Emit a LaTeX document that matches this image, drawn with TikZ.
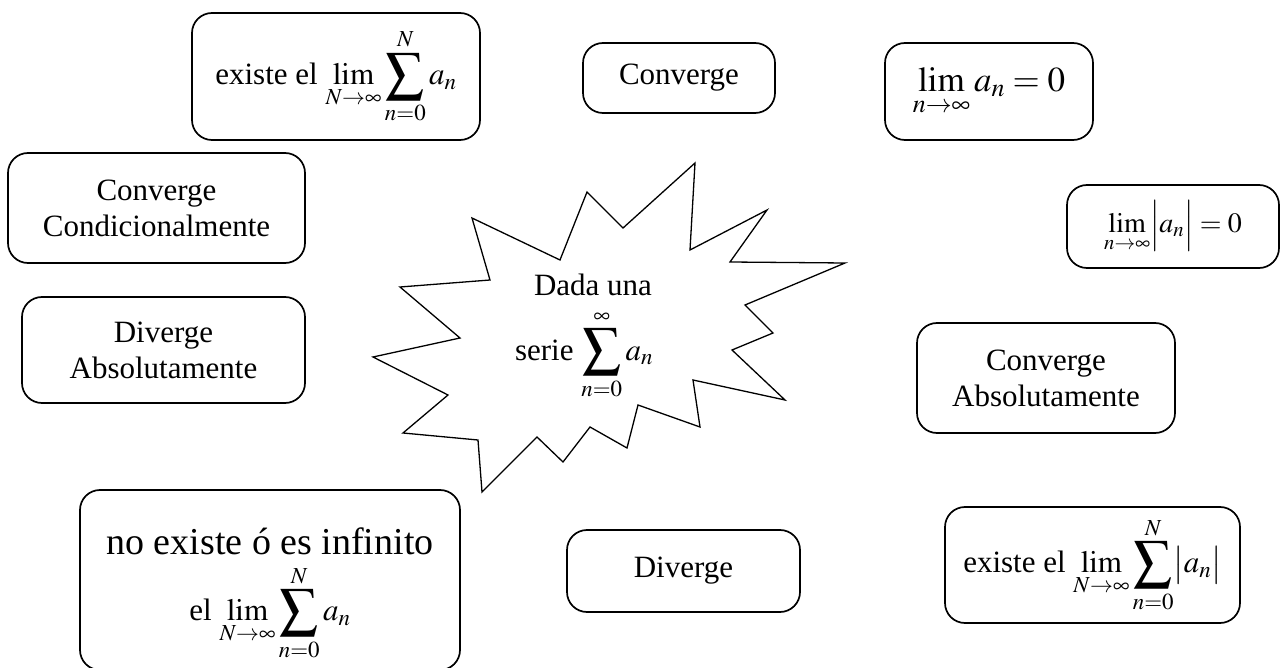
\documentclass[tikz,border=0pt]{standalone}
\usepackage{mathptmx}
\usepackage[no-math]{fontspec}
\setmainfont{Liberation Serif}
\newcommand{\MySum}{\mathop{\vcenter{\hbox{\fontsize{38}{38}\selectfont$\displaystyle\sum$}}}\limits}
\begin{document}
\begin{tikzpicture}[x=1pt,y=-1pt,
  box/.style={draw,line width=1.7pt,rounded corners=20pt,inner sep=0pt,align=center,font=\fontsize{31}{36}\selectfont},
  plaintext/.style={inner sep=0pt,align=center,font=\fontsize{31}{36}\selectfont},
  starline/.style={draw,line width=1.3pt,line join=miter}
]
\useasboundingbox (0,0) rectangle (1280,668);
% boxes
\node[box,minimum width=288pt,minimum height=127pt] (b1) at (336,76.5)
  {existe el $\displaystyle\lim_{N\to\infty}\MySum_{n=0}^{N}a_n$};
\node[box,minimum width=192pt,minimum height=70pt] (conv) at (679,78) {Converge};
\node[box,minimum width=208pt,minimum height=97pt,font=\fontsize{35}{40}\selectfont] (lim0) at (989,91.5)
  {$\displaystyle\lim_{n\to\infty}a_n=0$};
\node[box,minimum width=297pt,minimum height=110pt] (cc) at (156.5,208)
  {Converge\\Condicionalmente};
\node[box,minimum width=212pt,minimum height=83pt,font=\fontsize{28}{32}\selectfont] (limabs) at (1173,226.5)
  {$\displaystyle\lim_{n\to\infty}\Bigl|a_n\Bigr|=0$};
\node[box,minimum width=283pt,minimum height=106pt] (da) at (163.5,350)
  {Diverge\\Absolutamente};
\node[box,minimum width=258pt,minimum height=110pt] (ca) at (1046,378)
  {Converge\\Absolutamente};
\node[box,minimum width=380pt,minimum height=180pt] (nex) at (270,580) {};
\node[plaintext] (nextxt) at (270,594)
  {{\fontsize{38}{44}\selectfont no existe ó es infinito}\\[10pt]
   el $\displaystyle\lim_{N\to\infty}\MySum_{n=0}^{N}a_n$};
\node[box,minimum width=233pt,minimum height=82pt] (div) at (683.5,571) {Diverge};
\node[box,minimum width=295pt,minimum height=116pt] (exabs) at (1092.5,565)
  {existe el $\displaystyle\lim_{N\to\infty}\MySum_{n=0}^{N}\bigl|a_n\bigr|$};
% star
\draw[starline] (695,163) -- (690,250) -- (767,210) -- (730,262) -- (845,263)
  -- (745,305) -- (773,333) -- (732,350) -- (785,400) -- (693,380)
  -- (700,427) -- (638,405) -- (627,448) -- (590,427) -- (563,462)
  -- (537,437) -- (482,492) -- (478,440) -- (403,433) -- (448,395)
  -- (373,357) -- (460,338) -- (400,287) -- (490,280) -- (472,218)
  -- (560,260) -- (587,192) -- (623,228) -- cycle;
\node[plaintext] (dada) at (593,285) {Dada una};
\node[plaintext] (serie) at (584,355) {serie $\displaystyle\MySum_{n=0}^{\infty}a_n$};
\end{tikzpicture}
\end{document}
